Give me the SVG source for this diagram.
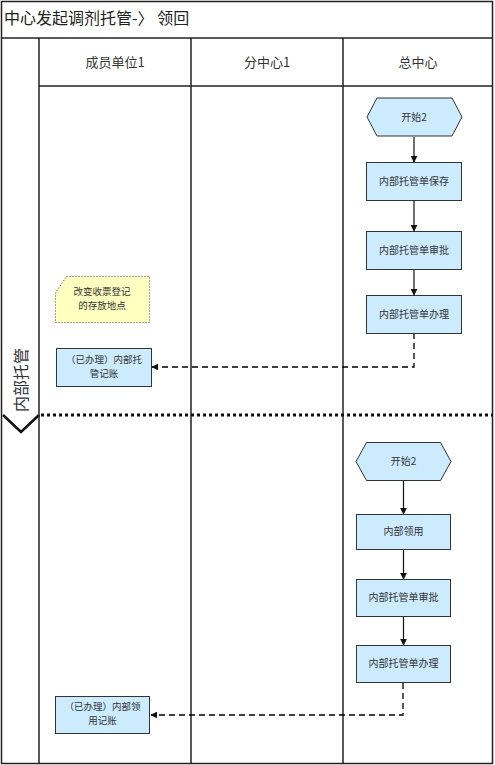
<svg xmlns="http://www.w3.org/2000/svg" width="495" height="765" viewBox="0 0 495 765">
<defs>
<style>
.frame{fill:none;stroke:#222;stroke-width:1.5}
.lane{stroke:#222;stroke-width:1.5}
.box{fill:#CCEBFF;stroke:#333;stroke-width:1}
.note{fill:#FFFFC0;stroke:#444;stroke-width:1;stroke-dasharray:1,2}
.t{font-family:"Noto Sans CJK SC","Liberation Serif",serif;font-size:10px;fill:#333;text-anchor:middle}
.t2{font-family:"Noto Sans CJK SC","Liberation Serif",serif;font-size:9.5px;fill:#333;text-anchor:middle}
.h{font-family:"Noto Sans CJK SC","Liberation Serif",serif;font-size:13px;fill:#333;text-anchor:middle}
.flow{stroke:#111;stroke-width:1.2;fill:none}
.dash{stroke:#000;stroke-width:1.3;fill:none;stroke-dasharray:6,4}
</style>
<marker id="ah" viewBox="0 0 10 10" refX="9" refY="5" markerWidth="7" markerHeight="7" orient="auto" markerUnits="userSpaceOnUse">
<path d="M0,0 L10,5 L0,10 z" fill="#111"/>
</marker>
</defs>
<rect x="0" y="0" width="495" height="765" fill="#fff"/>
<g id="pool">
<rect class="frame" x="1.5" y="1.5" width="491" height="762"/>
<line class="lane" x1="1.5" y1="38" x2="492.5" y2="38"/>
<line class="lane" x1="39" y1="86" x2="492.5" y2="86"/>
<line class="lane" x1="39" y1="38" x2="39" y2="763.5"/>
<line class="lane" x1="191" y1="38" x2="191" y2="763.5"/>
<line class="lane" x1="343" y1="38" x2="343" y2="763.5"/>
<text x="4" y="24" font-family="Noto Sans CJK SC,Liberation Serif,serif" font-size="16" fill="#222">中心发起调剂托管-〉 领回</text>
<text class="h" x="115" y="67">成员单位1</text>
<text class="h" x="267" y="67">分中心1</text>
<text class="h" x="418" y="67">总中心</text>
<text x="20" y="380" transform="rotate(-90 20 380)" font-family="Noto Sans CJK SC,Liberation Serif,serif" font-size="16" fill="#333" text-anchor="middle" dominant-baseline="central">内部托管</text>
<path d="M3,415 L21,432 L39,415" fill="none" stroke="#111" stroke-width="2.5"/>
<line x1="41" y1="415" x2="493" y2="415" stroke="#111" stroke-width="3" stroke-dasharray="3,3"/>
</g>
<g id="connectors">
<line class="flow" x1="414" y1="137" x2="414" y2="162" marker-end="url(#ah)"/>
<line class="flow" x1="414" y1="201" x2="414" y2="231" marker-end="url(#ah)"/>
<line class="flow" x1="414" y1="269" x2="414" y2="295" marker-end="url(#ah)"/>
<polyline class="dash" points="414,333 414,367 152,367" marker-end="url(#ah)"/>
<line class="flow" x1="403.5" y1="481" x2="403.5" y2="514" marker-end="url(#ah)"/>
<line class="flow" x1="403.5" y1="549" x2="403.5" y2="579" marker-end="url(#ah)"/>
<line class="flow" x1="403.5" y1="616" x2="403.5" y2="645" marker-end="url(#ah)"/>
<polyline class="dash" points="403,683 403,715 151,715" marker-end="url(#ah)"/>
</g>
<g id="start1">
<polygon class="box" points="377,98 452,98 462,117 452,136 377,136 367,117"/>
<text class="t" x="414" y="121">开始2</text>
</g>
<g id="save">
<rect class="box" x="366.5" y="162.5" width="95" height="38"/>
<text class="t" x="414" y="185">内部托管单保存</text>
</g>
<g id="approve1">
<rect class="box" x="366.5" y="231.5" width="95" height="38"/>
<text class="t" x="414" y="254">内部托管单审批</text>
</g>
<g id="handle1">
<rect class="box" x="366.5" y="295.5" width="95" height="38"/>
<text class="t" x="414" y="318">内部托管单办理</text>
</g>
<g id="note">
<path class="note" d="M66.5,276.5 L149.5,276.5 L149.5,322.5 L55.5,322.5 L55.5,293 Z"/>
<text class="t2" x="102" y="295">改变收票登记</text>
<text class="t2" x="102" y="309">的存放地点</text>
</g>
<g id="record1">
<rect class="box" x="56.5" y="348.5" width="95" height="38"/>
<text class="t2" x="104" y="363">（已办理）内部托</text>
<text class="t2" x="104" y="377">管记账</text>
</g>
<g id="start2">
<polygon class="box" points="366.5,442.5 440.5,442.5 451,461.5 440.5,480.5 366.5,480.5 356,461.5"/>
<text class="t" x="403.5" y="465">开始2</text>
</g>
<g id="use">
<rect class="box" x="356.5" y="514.5" width="94" height="35"/>
<text class="t" x="403.5" y="535">内部领用</text>
</g>
<g id="approve2">
<rect class="box" x="356.5" y="579.5" width="94" height="37"/>
<text class="t" x="403.5" y="601">内部托管单审批</text>
</g>
<g id="handle2">
<rect class="box" x="356.5" y="645.5" width="94" height="37"/>
<text class="t" x="403.5" y="667">内部托管单办理</text>
</g>
<g id="record2">
<rect class="box" x="55.5" y="696.5" width="94" height="37"/>
<text class="t2" x="102.5" y="710">（已办理）内部领</text>
<text class="t2" x="102.5" y="724">用记账</text>
</g>
</svg>
